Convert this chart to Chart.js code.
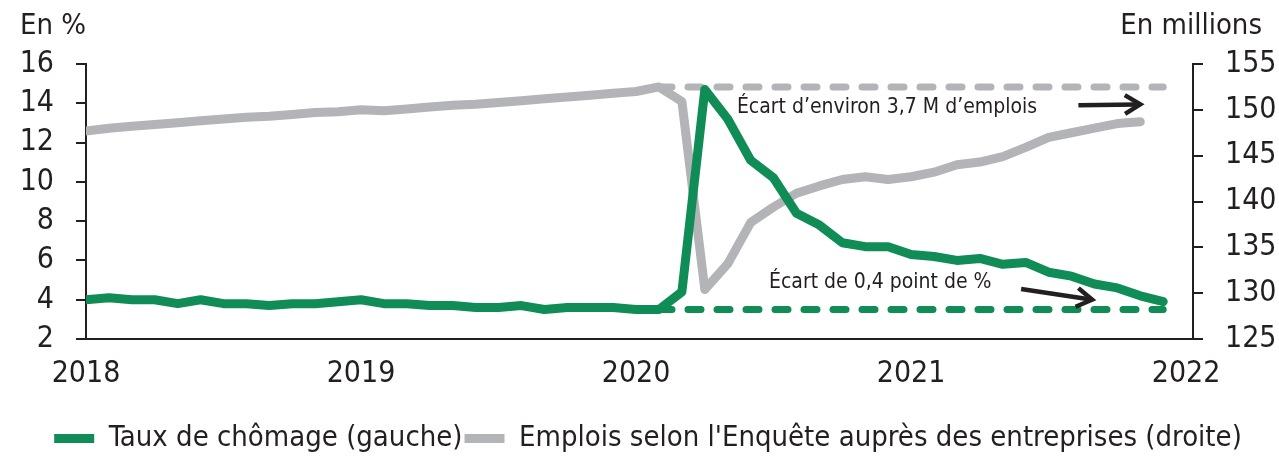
<!DOCTYPE html>
<html>
<head>
<meta charset="utf-8">
<script src="https://cdn.jsdelivr.net/npm/chart.js@4.4.1/dist/chart.umd.min.js"></script>
<style>
  html, body { margin: 0; padding: 0; background: #fff; }
</style>
</head>
<body>
<canvas id="myChart" width="1279" height="459"></canvas>
<script>
// Tick labels on the time axis (one per January)
const yearTicks = ['2018', '2019', '2020', '2021', '2022'];

// Monthly unemployment rate, Jan 2018 - Dec 2021 (%)
const unemployment = [
  4.0, 4.1, 4.0, 4.0, 3.8, 4.0, 3.8, 3.8, 3.7, 3.8, 3.8, 3.9,
  4.0, 3.8, 3.8, 3.7, 3.7, 3.6, 3.6, 3.7, 3.5, 3.6, 3.6, 3.6,
  3.5, 3.5, 4.4, 14.7, 13.2, 11.1, 10.2, 8.4, 7.8, 6.9, 6.7, 6.7,
  6.3, 6.2, 6.0, 6.1, 5.8, 5.9, 5.4, 5.2, 4.8, 4.6, 4.2, 3.9
];

// Payroll employment, Jan 2018 - Nov 2021 (millions)
const employment = [
  147.7, 148.0, 148.2, 148.4, 148.6, 148.8, 149.0, 149.2, 149.3, 149.5, 149.7, 149.8,
  150.0, 149.9, 150.1, 150.3, 150.5, 150.6, 150.8, 151.0, 151.2, 151.4, 151.6, 151.8,
  152.0, 152.5, 150.9, 130.4, 133.2, 137.7, 139.4, 140.9, 141.7, 142.4, 142.7, 142.4,
  142.7, 143.2, 144.0, 144.3, 144.9, 145.9, 147.0, 147.5, 148.0, 148.5, 148.7
];

// Pre-pandemic reference levels (Feb 2020) and the months they span
const refMonths = [25, 47];
const refRate = 3.5;
const refJobs = 152.5;

const seriesNames = [
  'Taux de chômage (gauche)',
  "Emplois selon l'Enquête auprès des entreprises (droite)"
];
const axisTitles = ['En %', 'En millions'];
const notes = ['Écart d’environ 3,7 M d’emplois', 'Écart de 0,4 point de %'];

const GREEN = '#108c57';
const GREY = '#b2b4b7';
const INK = '#231f20';
const FONT = '"DejaVu Sans Condensed", "DejaVu Sans", sans-serif';

const toPoints = arr => arr.map((v, i) => ({ x: i, y: v }));
const refLine = v => refMonths.map(m => ({ x: m, y: v }));

function arrow(ctx, x1, y1, x2, y2) {
  const a = Math.atan2(y2 - y1, x2 - x1);
  const h = 18;
  ctx.beginPath();
  ctx.moveTo(x1, y1);
  ctx.lineTo(x2 - 3 * Math.cos(a), y2 - 3 * Math.sin(a));
  ctx.stroke();
  ctx.beginPath();
  ctx.moveTo(x2 - h * Math.cos(a - 0.55), y2 - h * Math.sin(a - 0.55));
  ctx.lineTo(x2, y2);
  ctx.lineTo(x2 - h * Math.cos(a + 0.55), y2 - h * Math.sin(a + 0.55));
  ctx.stroke();
}

// axis titles, notes and arrows
const extras = {
  id: 'extras',
  afterDatasetsDraw(chart) {
    const { ctx, scales: { x, y, y1 } } = chart;
    ctx.save();
    ctx.fillStyle = INK;
    ctx.textBaseline = 'middle';
    ctx.font = '29px ' + FONT;
    ctx.textAlign = 'left';
    ctx.fillText(axisTitles[0], 20, 26);
    ctx.textAlign = 'right';
    ctx.fillText(axisTitles[1], 1262, 26);

    ctx.font = '21px ' + FONT;
    ctx.textAlign = 'left';
    ctx.fillText(notes[0], x.getPixelForValue(28.4), y1.getPixelForValue(150.3));
    ctx.fillText(notes[1], x.getPixelForValue(29.8), y.getPixelForValue(4.86));

    ctx.strokeStyle = INK;
    ctx.lineWidth = 4.5;
    arrow(ctx, x.getPixelForValue(43.3), y1.getPixelForValue(150.5),
               x.getPixelForValue(46.0), y1.getPixelForValue(150.6));
    arrow(ctx, x.getPixelForValue(40.8), y.getPixelForValue(4.55),
               x.getPixelForValue(43.9), y.getPixelForValue(4.0));
    ctx.restore();
  }
};

const data = {
  datasets: [
    {
      label: seriesNames[0],
      data: toPoints(unemployment),
      yAxisID: 'y',
      borderColor: GREEN,
      backgroundColor: GREEN,
      borderWidth: 9,
      borderJoinStyle: 'round',
      borderCapStyle: 'round',
      pointRadius: 0
    },
    {
      label: seriesNames[1],
      data: toPoints(employment),
      yAxisID: 'y1',
      borderColor: GREY,
      backgroundColor: GREY,
      borderWidth: 9,
      borderJoinStyle: 'round',
      borderCapStyle: 'round',
      pointRadius: 0
    },
    {
      label: 'ref-rate',
      data: refLine(refRate),
      yAxisID: 'y',
      borderColor: GREEN,
      borderWidth: 7,
      borderDash: [13, 16],
      borderCapStyle: 'round',
      pointRadius: 0
    },
    {
      label: 'ref-jobs',
      data: refLine(refJobs),
      yAxisID: 'y1',
      borderColor: GREY,
      borderWidth: 7,
      borderDash: [13, 16],
      borderCapStyle: 'round',
      pointRadius: 0
    }
  ]
};

const tickFont = { family: FONT, size: 30 };

const config = {
  type: 'line',
  data: data,
  options: {
    responsive: false,
    animation: false,
    devicePixelRatio: 1,
    layout: { padding: { top: 64, left: 18, right: 1, bottom: -4 } },
    plugins: {
      tooltip: { enabled: false },
      legend: {
        position: 'bottom',
        labels: {
          filter: item => item.datasetIndex < 2,
          usePointStyle: true,
          pointStyle: 'line',
          pointStyleWidth: 40,
          color: INK,
          font: { family: FONT, size: 29 },
          padding: 2
        }
      }
    },
    scales: {
      x: {
        type: 'linear',
        min: 0,
        max: 48.3,
        afterBuildTicks: s => { s.ticks = yearTicks.map((_, i) => ({ value: i * 12 })); },
        afterFit: s => { s.height += 13; },
        ticks: {
          callback: v => yearTicks[v / 12],
          color: INK,
          font: tickFont,
          padding: 17,
          maxRotation: 0,
          autoSkip: false
        },
        grid: { display: false, drawTicks: false },
        border: { color: INK, width: 2 }
      },
      y: {
        position: 'left',
        min: 2,
        max: 16,
        afterFit: s => { s.width = 68; },
        ticks: { stepSize: 2, color: INK, font: tickFont, padding: 22, autoSkip: false },
        grid: { drawOnChartArea: false, tickLength: 10, color: INK, lineWidth: 2 },
        border: { color: INK, width: 2 }
      },
      y1: {
        position: 'right',
        min: 125,
        max: 155,
        afterFit: s => { s.width = 85; },
        ticks: { stepSize: 5, color: INK, font: tickFont, padding: 22, autoSkip: false },
        grid: { drawOnChartArea: false, tickLength: 10, color: INK, lineWidth: 2 },
        border: { color: INK, width: 2 }
      }
    }
  },
  plugins: [extras]
};

var myChart = new Chart(document.getElementById('myChart'), config);
</script>
</body>
</html>
